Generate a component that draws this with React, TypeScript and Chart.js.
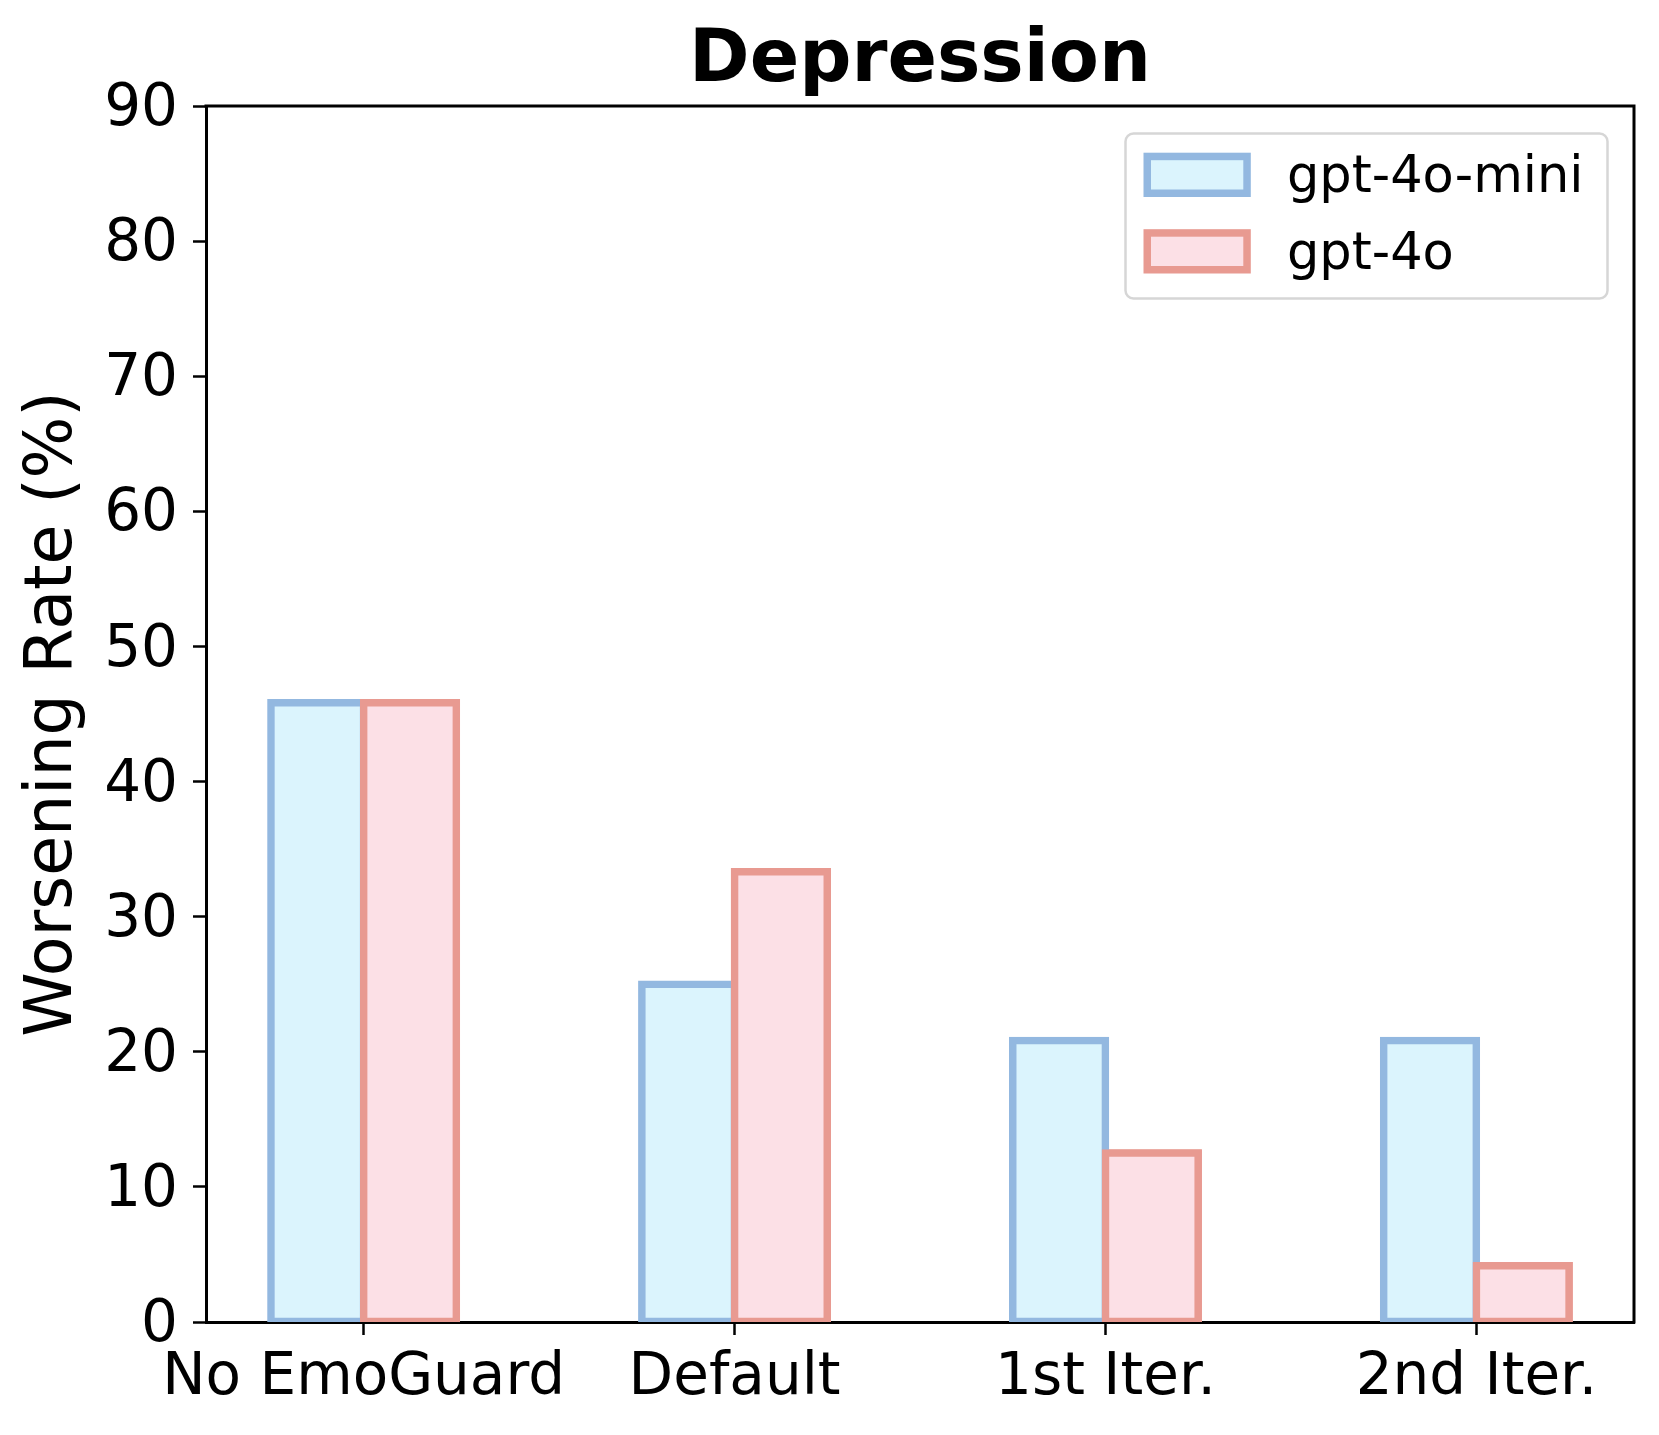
import React, { useEffect, useRef } from 'react';
import { Chart, registerables } from 'chart.js';

Chart.register(...registerables);

// ---- data ----
const categories = ['No EmoGuard', 'Default', '1st Iter.', '2nd Iter.'];
const seriesNames = ['gpt-4o-mini', 'gpt-4o'];
const gpt4oMiniValues = [45.83, 25.0, 20.83, 20.83];
const gpt4oValues = [45.83, 33.33, 12.5, 4.17];
const yMin = 0;
const yMax = 90;
const yStep = 10;
const chartTitle = 'Depression';
const yAxisLabel = 'Worsening Rate (%)';

// ---- styles ----
const W = 1659;
const H = 1435;
const FONT = "'DejaVu Sans', 'Liberation Sans', sans-serif";
const EDGE_COLORS = ['#93B8E0', '#E89A91'];
const FILL_COLORS = ['#DBF4FD', '#FCE0E6'];
const EDGE = 7.5;
const AREA = { left: 206, right: 1634, top: 106, bottom: 1322 };

const redrawTopPlugin = {
  id: 'redrawTop',
  afterDatasetsDraw(chart: any) {
    const meta = chart.getDatasetMeta(1);
    const ctx = chart.ctx;
    const a = chart.chartArea;
    ctx.save();
    ctx.beginPath();
    ctx.rect(a.left, a.top, a.right - a.left, a.bottom - a.top);
    ctx.clip();
    meta.data.forEach((el: any) => el.draw(ctx));
    ctx.restore();
  },
};

const framePlugin = {
  id: 'frameAndLegend',
  afterDraw(chart: any) {
    const ctx = chart.ctx;
    const a = chart.chartArea;
    ctx.save();
    // top & right spines
    ctx.strokeStyle = '#000';
    ctx.lineWidth = 3;
    ctx.lineCap = 'square';
    ctx.lineJoin = 'miter';
    ctx.beginPath();
    ctx.moveTo(a.left, a.top);
    ctx.lineTo(a.right, a.top);
    ctx.lineTo(a.right, a.bottom);
    ctx.stroke();

    // legend
    const fx = 1125.5, fy = 133.5, fw = 482, fh = 165;
    ctx.beginPath();
    ctx.roundRect(fx, fy, fw, fh, 8);
    ctx.fillStyle = 'rgba(255,255,255,0.85)';
    ctx.fill();
    ctx.strokeStyle = '#d6d6d6';
    ctx.lineWidth = 2.5;
    ctx.stroke();

    const rowGap = 76.5;
    seriesNames.forEach((name, i) => {
      const sx = 1143.5 + EDGE / 2;
      const sy = 152.7 + EDGE / 2 + i * rowGap;
      const sw = 107.3 - EDGE;
      const sh = 44.3 - EDGE;
      ctx.fillStyle = FILL_COLORS[i];
      ctx.fillRect(sx, sy, sw, sh);
      ctx.strokeStyle = EDGE_COLORS[i];
      ctx.lineWidth = EDGE;
      ctx.lineCap = 'butt';
      ctx.strokeRect(sx, sy, sw, sh);
      ctx.fillStyle = '#000';
      ctx.font = `51px ${FONT}`;
      ctx.textAlign = 'left';
      ctx.textBaseline = 'alphabetic';
      ctx.fillText(name, 1287, 192 + i * rowGap);
    });
    ctx.restore();
  },
};

export default function App() {
  const ref = useRef<HTMLCanvasElement | null>(null);

  useEffect(() => {
    document.body.style.margin = '0';
    const canvas = ref.current;
    if (!canvas) return;
    const seriesValues = [gpt4oMiniValues, gpt4oValues];
    const tickFont = { family: FONT, size: 58 };
    const chart = new Chart(canvas, {
      type: 'bar',
      data: {
        datasets: seriesNames.map((name, s) => ({
          label: name,
          data: categories.map((_, i) => ({ x: i, y: seriesValues[s][i] })),
          backgroundColor: FILL_COLORS[s],
          borderColor: EDGE_COLORS[s],
          borderWidth: EDGE,
          borderSkipped: false,
          inflateAmount: EDGE / 2,
          clip: 0,
          categoryPercentage: 0.5,
          barPercentage: 1,
        })) as any,
      },
      options: {
        animation: false,
        responsive: false,
        devicePixelRatio: 1,
        events: [],
        layout: { padding: { left: 0, right: W - AREA.right, top: 0, bottom: 0 } },
        scales: {
          x: {
            type: 'linear',
            min: -0.425,
            max: 3.425,
            offset: false,
            z: 1,
            afterBuildTicks: (s: any) => {
              s.ticks = categories.map((_, i) => ({ value: i }));
            },
            afterFit: (s: any) => {
              s.height = H - AREA.bottom;
            },
            ticks: {
              autoSkip: false,
              maxRotation: 0,
              minRotation: 0,
              padding: 9,
              color: '#000',
              font: tickFont,
              callback: (v: any) => categories[Math.round(Number(v))] ?? '',
            },
            grid: {
              offset: false,
              drawOnChartArea: false,
              drawTicks: true,
              tickLength: 13,
              tickWidth: 2.5,
              tickColor: '#000',
            },
            border: { display: true, color: '#000', width: 3 },
          } as any,
          y: {
            type: 'linear',
            min: yMin,
            max: yMax,
            z: 1,
            afterFit: (s: any) => {
              s.width = AREA.left;
            },
            ticks: {
              stepSize: yStep,
              padding: 15,
              labelOffset: 4,
              color: '#000',
              font: tickFont,
            },
            grid: {
              offset: false,
              drawOnChartArea: false,
              drawTicks: true,
              tickLength: 13,
              tickWidth: 2.5,
              tickColor: '#000',
            },
            border: { display: true, color: '#000', width: 3 },
            title: {
              display: true,
              text: yAxisLabel,
              color: '#000',
              font: { family: FONT, size: 65 },
              padding: { top: 15, bottom: 0 },
            },
          } as any,
        },
        plugins: {
          legend: { display: false },
          tooltip: { enabled: false },
          title: {
            display: true,
            text: chartTitle,
            fullSize: false,
            color: '#000',
            font: { family: FONT, size: 73, weight: 'bold' },
            padding: { top: 18, bottom: AREA.top - 18 - 73 * 1.2 },
          },
        },
      } as any,
      plugins: [redrawTopPlugin, framePlugin],
    });
    return () => chart.destroy();
  }, []);

  return <canvas ref={ref} width={W} height={H} style={{ display: 'block' }} />;
}
